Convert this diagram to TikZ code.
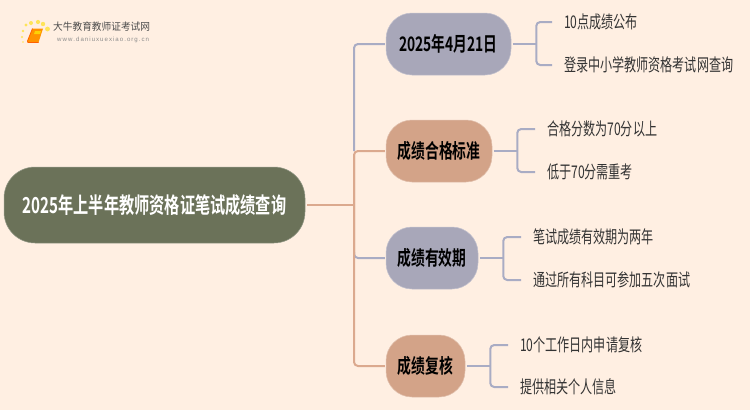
\documentclass[tikz,border=0pt]{standalone}
\usepackage{fontspec}
\setmainfont{Liberation Sans}
\newfontfamily\cjk[FakeStretch=0.69]{Noto Sans CJK SC}
\newfontfamily\cjkb[FakeStretch=0.69]{Noto Sans CJK SC Bold}
\newfontfamily\cjkw[FakeStretch=0.95]{Noto Sans CJK SC}
\definecolor{bgc}{HTML}{FFEFE2}
\definecolor{rootc}{HTML}{6B7259}
\definecolor{greyc}{HTML}{A8A7B9}
\definecolor{orgc}{HTML}{D3A388}
\definecolor{lgrey}{HTML}{A9ACC4}
\definecolor{lorg}{HTML}{DBA98E}
\tikzset{
  x=1pt,y=-1pt,
  pill/.style={rounded corners=26pt,minimum height=62pt,inner sep=0pt,text=black,font=\cjkb\fontsize{20}{20}\selectfont,line width=0.5pt},
  gpill/.style={pill,fill=greyc,draw=greyc!70!white},
  opill/.style={pill,fill=orgc,draw=orgc!70!white},
  leaf/.style={anchor=west,inner sep=0pt,text=black!80,font=\cjk\fontsize{17.5}{18}\selectfont},
  gl/.style={draw=lgrey,line width=2pt,rounded corners=4pt},
  ol/.style={draw=lorg,line width=2pt,rounded corners=4pt},
}
\begin{document}
\begin{tikzpicture}
\useasboundingbox[fill=bgc] (0,0) rectangle (750,410);
% logo
\foreach \a/\b/\r in {23/42/0.9,22/37/1.2,23/31/1.4,26/25/1.7,31/23/2,38/22/2.1,43/24/2.2,47.5/29/2.4}
  \fill[yellow!75!orange!65!white] (\a,\b) circle[radius=\r];
\fill[orange!85!yellow] (32.5,28.5) -- (43,28.5) -- (38.5,42.5) -- (28,42.5) -- (27.5,41) -- cycle;
\draw[orange!75!red,line width=0.8pt] (32.5,28.5) -- (27.5,41) -- (28,42.5) -- (38.5,42.5);
\fill[yellow!70!orange] (35,31) -- (41,31) -- (40,34) -- (34,34) -- cycle;
\node[inner sep=0pt,anchor=west,text=black!70,font=\cjkw\fontsize{10.2}{11}\selectfont] (logotext) at (53,27) {大牛教育教师证考试网};
\node[inner sep=0pt,anchor=west,text=black!45,font=\fontsize{6.1}{7}\selectfont] (logourl) at (57,39.5) {w\,w\,w\,.\,d\,a\,n\,i\,u\,x\,u\,e\,x\,i\,a\,o\,.\,o\,r\,g\,.\,c\,n};
% nodes
\node[pill,rounded corners=31pt,fill=rootc,draw=rootc!70!white,text=white,minimum width=301pt,minimum height=76pt,font=\cjkb\fontsize{22}{22}\selectfont] (root) at (154.5,205) {2025年上半年教师资格证笔试成绩查询};
\node[gpill,minimum width=125pt] (n1) at (448.5,44) {2025年4月21日};
\node[opill,minimum width=106pt] (n2) at (439,151) {成绩合格标准};
\node[gpill,minimum width=92pt] (n3) at (432,258) {成绩有效期};
\node[opill,minimum width=79pt] (n4) at (425.5,366) {成绩复核};
% leaves
\node[leaf] (a1) at (564,22) {10点成绩公布};
\node[leaf] (a2) at (564,65) {登录中小学教师资格考试网查询};
\node[leaf] (b1) at (547,129) {合格分数为70分以上};
\node[leaf] (b2) at (547,172) {低于70分需重考};
\node[leaf] (c1) at (533,237) {笔试成绩有效期为两年};
\node[leaf] (c2) at (533,280) {通过所有科目可参加五次面试};
\node[leaf] (d1) at (520,345) {10个工作日内申请复核};
\node[leaf] (d2) at (520,387) {提供相关个人信息};
% trunk
\coordinate (tr) at (354,205);
\draw[gl] (tr |- n2.west) |- ([xshift=-1pt]n1.west);
\draw[ol] (tr |- n3.west) |- ([xshift=-1pt]n2.west);
\draw[gl] (tr |- n3.west) ++(0,-6) |- ([xshift=-1pt]n3.west);
\draw[ol] (tr |- n2.west) ++(0,4) -- (tr) |- ([xshift=-1pt]n4.west);
\draw[draw=lorg,line width=2pt] ([xshift=2pt]root.east) -- (tr);
% brackets
\foreach \p/\l/\u/\d in {n1/a/1/2,n2/b/1/2,n3/c/1/2,n4/d/1/2}{
  \coordinate (j) at ([xshift=25pt]\p.east);
  \draw[draw=lgrey,line width=2pt] ([xshift=1.5pt]\p.east) -- (j);
  \draw[gl] ([xshift=-12pt]\l\u.west) -| (j) |- ([xshift=-12pt]\l\d.west);
}
\end{tikzpicture}
\end{document}
